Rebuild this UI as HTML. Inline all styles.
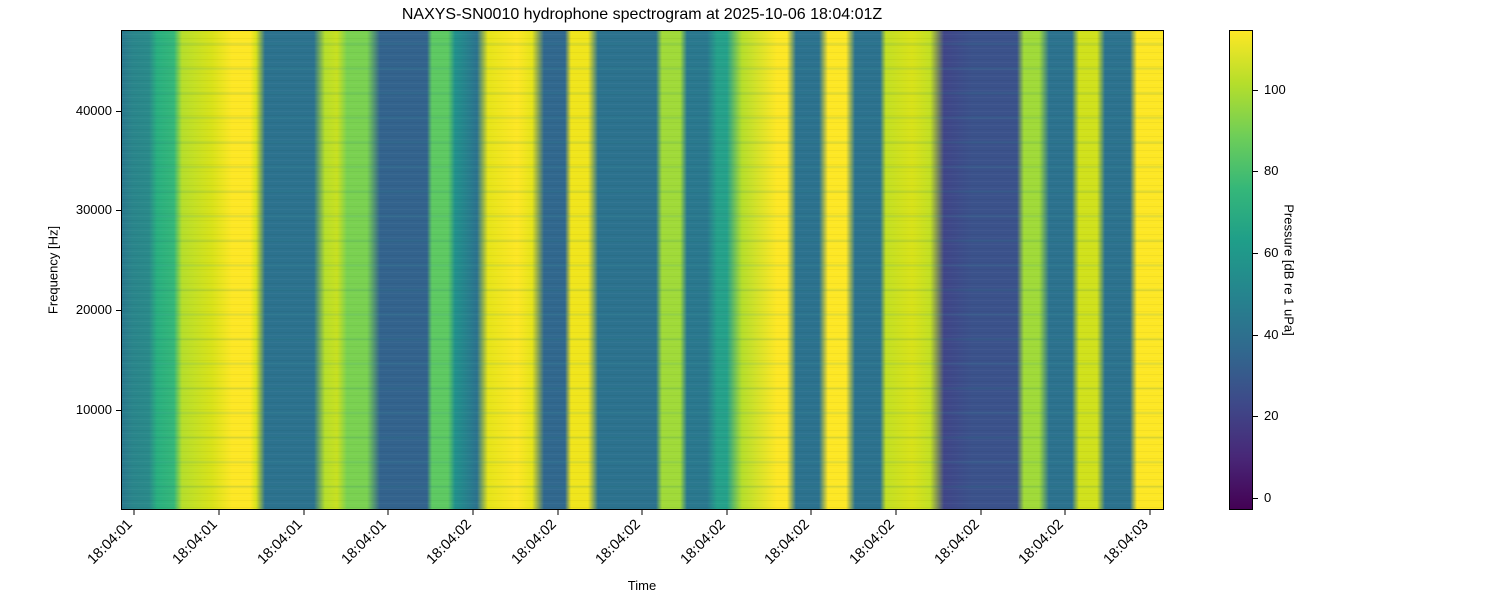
<!DOCTYPE html>
<html><head><meta charset="utf-8"><style>
body{margin:0;width:1500px;height:600px;background:#fff;font-family:"Liberation Sans","DejaVu Sans",sans-serif;position:relative;overflow:hidden}
.a{position:absolute}
#plot{left:121px;top:30px;width:1043px;height:480px;
background:
repeating-linear-gradient(180deg,rgba(0,0,0,0.04) 0 1px,rgba(0,0,0,0) 1px 3px,rgba(255,255,255,0.03) 3px 4px,rgba(0,0,0,0) 4px 7px),
repeating-linear-gradient(180deg,rgba(0,0,0,0) 0 11px,rgba(40,140,140,0.08) 12px,rgba(40,140,140,0.15) 13px,rgba(40,140,140,0.08) 14px,rgba(0,0,0,0) 15px 24.6px),
linear-gradient(90deg,
#2a788e 0px,#2a858b 10px,#2a8a8a 27px,#29af7f 35px,#35b779 52px,#b5de2b 60px,#d8e219 90px,#fde725 110px,#fde725 128px,#d8e219 134px,#2c728e 143px,#2c728e 192px,#b5de2b 203px,#c8e020 215px,#7ad151 225px,#7ad151 245px,#33638d 258px,#33638d 305px,#5ec962 310px,#5ec962 326px,#21918c 333px,#2c728e 355px,#e5e419 366px,#fde725 395px,#e5e419 410px,#31688e 422px,#31688e 443px,#f0e51c 449px,#f0e51c 466px,#2c728e 476px,#2c728e 534px,#a0da39 540px,#a0da39 558px,#2a788e 565px,#2a788e 585px,#25a18a 595px,#25a18a 605px,#b5de2b 620px,#fde725 655px,#fde725 665px,#2c728e 674px,#2c728e 697px,#fde725 706px,#fde725 724px,#2c728e 733px,#2c728e 758px,#c2df23 764px,#d8e219 790px,#c2df23 808px,#404688 822px,#3b528b 850px,#3b528b 895px,#a0da39 902px,#a0da39 917px,#2c728e 927px,#2c728e 950px,#d0e11c 957px,#d0e11c 975px,#2c728e 983px,#2c728e 1008px,#fde725 1015px,#fde725 1043px);
border:1px solid #000;box-sizing:border-box}
#cb{left:1229px;top:30px;width:24px;height:480px;border:1px solid #000;box-sizing:border-box;
background:linear-gradient(0deg,#440154,#482878 11%,#3e4989 22%,#31688e 33%,#26828e 44%,#1f9e89 56%,#35b779 67%,#6ece58 78%,#b5de2b 89%,#fde725)}
.t{font-size:13px;color:#000}
.tk{background:#000}
</style></head><body>
<div class="a t" style="left:0;width:1284px;top:6px;text-align:center;font-size:16px">NAXYS-SN0010 hydrophone spectrogram at 2025-10-06 18:04:01Z</div>
<div id="plot" class="a"></div>
<div id="cb" class="a"></div>
<div class="a tk" style="left:116px;top:410px;width:5px;height:1px"></div>
<div class="a tk" style="left:116px;top:310px;width:5px;height:1px"></div>
<div class="a tk" style="left:116px;top:210px;width:5px;height:1px"></div>
<div class="a tk" style="left:116px;top:111px;width:5px;height:1px"></div>
<div class="a t" style="right:1388px;top:402px">10000</div>
<div class="a t" style="right:1388px;top:302px">20000</div>
<div class="a t" style="right:1388px;top:202px">30000</div>
<div class="a t" style="right:1388px;top:103px">40000</div>
<div class="a t" style="left:53px;top:270px;transform:translate(-50%,-50%) rotate(-90deg);white-space:nowrap">Frequency [Hz]</div>
<div class="a t" style="left:642px;top:578px;transform:translateX(-50%)">Time</div>
<div class="a tk" style="left:1253px;top:498px;width:5px;height:1px"></div>
<div class="a tk" style="left:1253px;top:416px;width:5px;height:1px"></div>
<div class="a tk" style="left:1253px;top:335px;width:5px;height:1px"></div>
<div class="a tk" style="left:1253px;top:253px;width:5px;height:1px"></div>
<div class="a tk" style="left:1253px;top:171px;width:5px;height:1px"></div>
<div class="a tk" style="left:1253px;top:90px;width:5px;height:1px"></div>
<div class="a t" style="left:1264px;top:490px">0</div>
<div class="a t" style="left:1264px;top:408px">20</div>
<div class="a t" style="left:1264px;top:327px">40</div>
<div class="a t" style="left:1264px;top:245px">60</div>
<div class="a t" style="left:1264px;top:163px">80</div>
<div class="a t" style="left:1264px;top:82px">100</div>
<div class="a t" style="left:1289px;top:270px;transform:translate(-50%,-50%) rotate(90deg);white-space:nowrap">Pressure [dB re 1 uPa]</div>
<svg class="a" style="left:0;top:0" width="1500" height="600">
<g font-family="Liberation Sans, DejaVu Sans, sans-serif" font-size="14.5" fill="#000">
<g id="x"></g>
</g>
</svg>
<script>
var xs=[134,219,304,388,473,558,642,727,811,896,981,1065,1150];
var lab=["18:04:01","18:04:01","18:04:01","18:04:01","18:04:02","18:04:02","18:04:02","18:04:02","18:04:02","18:04:02","18:04:02","18:04:02","18:04:03"];
var g=document.getElementById('x'),h='';
xs.forEach(function(x,i){h+='<line x1="'+x+'" x2="'+x+'" y1="510" y2="515" stroke="#000"/>';
h+='<text transform="translate('+(x-1)+',525) rotate(-45)" text-anchor="end">'+lab[i]+'</text>';});
g.innerHTML=h;
</script>
</body></html>
